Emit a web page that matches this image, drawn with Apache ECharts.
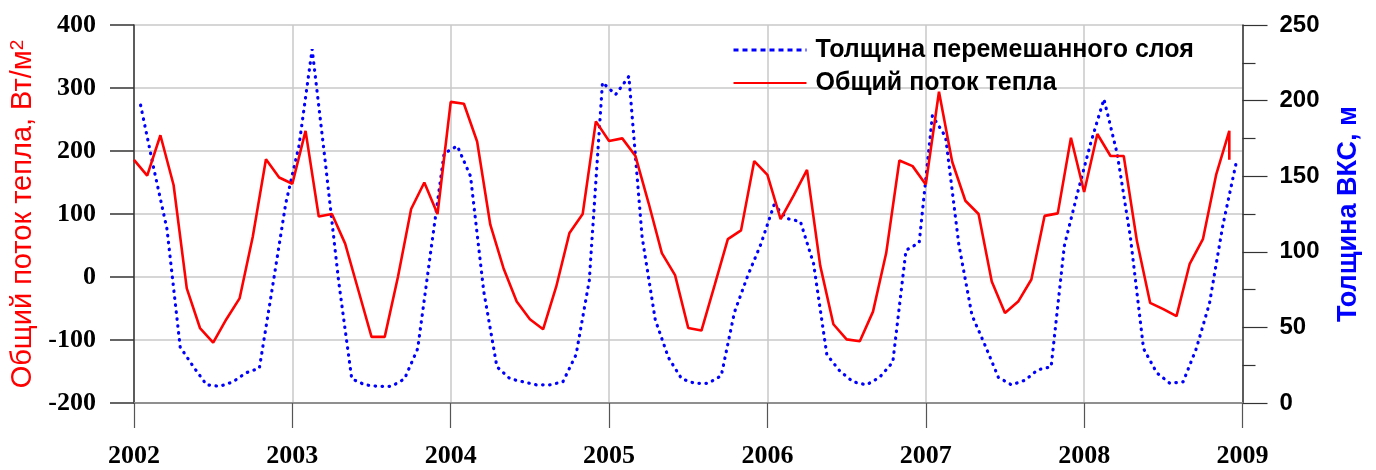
<!DOCTYPE html>
<html>
<head>
<meta charset="utf-8">
<script src="https://cdn.jsdelivr.net/npm/echarts@6/dist/echarts.min.js"></script>
<style>
  html, body { margin: 0; padding: 0; background: #ffffff; }
  #chart { width: 1376px; height: 470px; }
</style>
</head>
<body>
<div id="chart"></div>
<script>
// Year ticks on the time axis
const yearTicks = [2002, 2003, 2004, 2005, 2006, 2007, 2008, 2009];

// Monthly total heat flux, W/m2 (Jan 2002 .. Dec 2008), sampled at the start of each month
const heatFlux = [
  186, 161, 225, 146, -18, -81, -104, -67, -34, 64, 187, 158,
  148, 232, 96, 100, 53, -21, -95, -95, 0, 108, 150, 100,
  278, 275, 215, 83, 14, -39, -67, -83, -15, 70, 100, 247,
  216, 220, 192, 117, 38, 3, -81, -85, -13, 60, 74, 184,
  162, 92, 130, 170, 18, -75, -99, -102, -55, 38, 185, 176,
  147, 294, 183, 121, 100, -7, -57, -39, -4, 97, 101, 221,
  135, 227, 192, 192, 57, -41, -51, -62, 21, 60, 162, 232
];
// Closing value of the heat flux record, drawn at the last month
const heatFluxClosing = 186;

// Monthly mixed layer thickness, m (Jan 2002 .. Dec 2008), plotted at mid-month
const mixedLayer = [
  197, 155, 115, 37, 24, 12, 11, 14, 20, 23, 77, 132,
  170, 234, 159, 81, 16, 12, 11, 11, 16, 36, 101, 165,
  170, 150, 74, 24, 16, 14, 12, 12, 14, 32, 81, 212,
  204, 216, 110, 55, 30, 16, 13, 13, 18, 60, 84, 105,
  131, 122, 120, 92, 32, 21, 14, 12, 17, 27, 101, 106,
  190, 176, 105, 58, 38, 17, 12, 15, 22, 24, 104, 139,
  172, 201, 165, 110, 36, 20, 13, 14, 36, 66, 117, 158
];

const startYear = yearTicks[0];
const endYear = yearTicks[yearTicks.length - 1];

const heatPoints = heatFlux.map((v, i) => [startYear + i / 12, v]);
heatPoints.push([startYear + (heatFlux.length - 1) / 12, heatFluxClosing]);
const layerPoints = mixedLayer.map((v, i) => [startYear + (i + 0.5) / 12, v]);

const NAME_LAYER = 'Толщина перемешанного слоя';
const NAME_HEAT = 'Общий поток тепла';

const chart = echarts.init(document.getElementById('chart'), null, { renderer: 'canvas' });

chart.setOption({
  animation: false,
  backgroundColor: '#ffffff',
  grid: { left: 134, right: 133.5, top: 25, bottom: 67, containLabel: false },
  legend: {
    orient: 'vertical',
    left: 732,
    top: 37,
    padding: 0,
    itemWidth: 73,
    itemHeight: 14,
    itemGap: 7,
    itemStyle: { opacity: 0 },
    textStyle: {
      fontFamily: 'Liberation Sans, Arial, sans-serif',
      fontWeight: 'bold',
      fontSize: 25,
      lineHeight: 26,
      color: '#000000',
      padding: [0, 0, 0, 4]
    },
    data: [
      { name: NAME_LAYER, lineStyle: { type: [5, 4], width: 3, cap: 'butt' } },
      { name: NAME_HEAT }
    ]
  },
  xAxis: {
    type: 'value',
    min: startYear,
    max: endYear,
    interval: 1,
    axisLine: { show: true, onZero: false, lineStyle: { color: '#8f8f8f', width: 2 } },
    axisTick: { show: true, length: 25, lineStyle: { color: '#555555', width: 1.2 } },
    axisLabel: {
      margin: 40,
      fontFamily: 'Liberation Serif, Times New Roman, serif',
      fontWeight: 'bold',
      fontSize: 26,
      color: '#000000',
      formatter: v => String(v)
    },
    splitLine: { show: true, lineStyle: { color: '#c8c8c8', width: 1.5 } }
  },
  yAxis: [
    {
      type: 'value',
      position: 'left',
      min: -200,
      max: 400,
      interval: 100,
      name: 'Общий поток тепла, Вт/м{s|2}',
      nameLocation: 'middle',
      nameRotate: 90,
      nameGap: 95,
      nameTextStyle: {
        fontFamily: 'Liberation Sans, Arial, sans-serif',
        fontSize: 29,
        color: '#ff0000',
        rich: {
          s: { fontSize: 19, verticalAlign: 'top', color: '#ff0000', fontFamily: 'Liberation Sans, Arial, sans-serif' }
        }
      },
      axisLine: { show: true, onZero: false, lineStyle: { color: '#333333', width: 1.5 } },
      axisTick: { show: true, length: 24, lineStyle: { color: '#333333', width: 1.5 } },
      axisLabel: {
        margin: 38,
        fontFamily: 'Liberation Serif, Times New Roman, serif',
        fontWeight: 'bold',
        fontSize: 26,
        color: '#000000'
      },
      splitLine: { show: true, lineStyle: { color: '#c8c8c8', width: 1.5 } }
    },
    {
      type: 'value',
      position: 'right',
      min: 0,
      max: 250,
      interval: 50,
      name: 'Толщина ВКС, м',
      nameLocation: 'middle',
      nameRotate: 90,
      nameGap: 93,
      nameTextStyle: {
        fontFamily: 'Liberation Sans, Arial, sans-serif',
        fontWeight: 'bold',
        fontSize: 27,
        color: '#0000ff'
      },
      axisLine: { show: true, onZero: false, lineStyle: { color: '#333333', width: 1.5 } },
      axisTick: { show: true, length: 25, lineStyle: { color: '#333333', width: 1.2 } },
      minorTick: { show: true, splitNumber: 2, length: 13, lineStyle: { color: '#333333', width: 1.2 } },
      axisLabel: {
        margin: 37,
        fontFamily: 'Liberation Sans, Arial, sans-serif',
        fontWeight: 'bold',
        fontSize: 24,
        color: '#000000'
      },
      splitLine: { show: false }
    }
  ],
  series: [
    {
      name: NAME_LAYER,
      type: 'line',
      yAxisIndex: 1,
      data: layerPoints,
      symbol: 'none',
      lineStyle: { color: '#0000ff', width: 3.2, type: [0.5, 6.5], cap: 'round' },
      itemStyle: { color: '#0000ff' },
      z: 2
    },
    {
      name: NAME_HEAT,
      type: 'line',
      yAxisIndex: 0,
      data: heatPoints,
      symbol: 'none',
      lineStyle: { color: '#ff0000', width: 2.6 },
      itemStyle: { color: '#ff0000' },
      z: 3
    }
  ]
});
</script>
</body>
</html>
